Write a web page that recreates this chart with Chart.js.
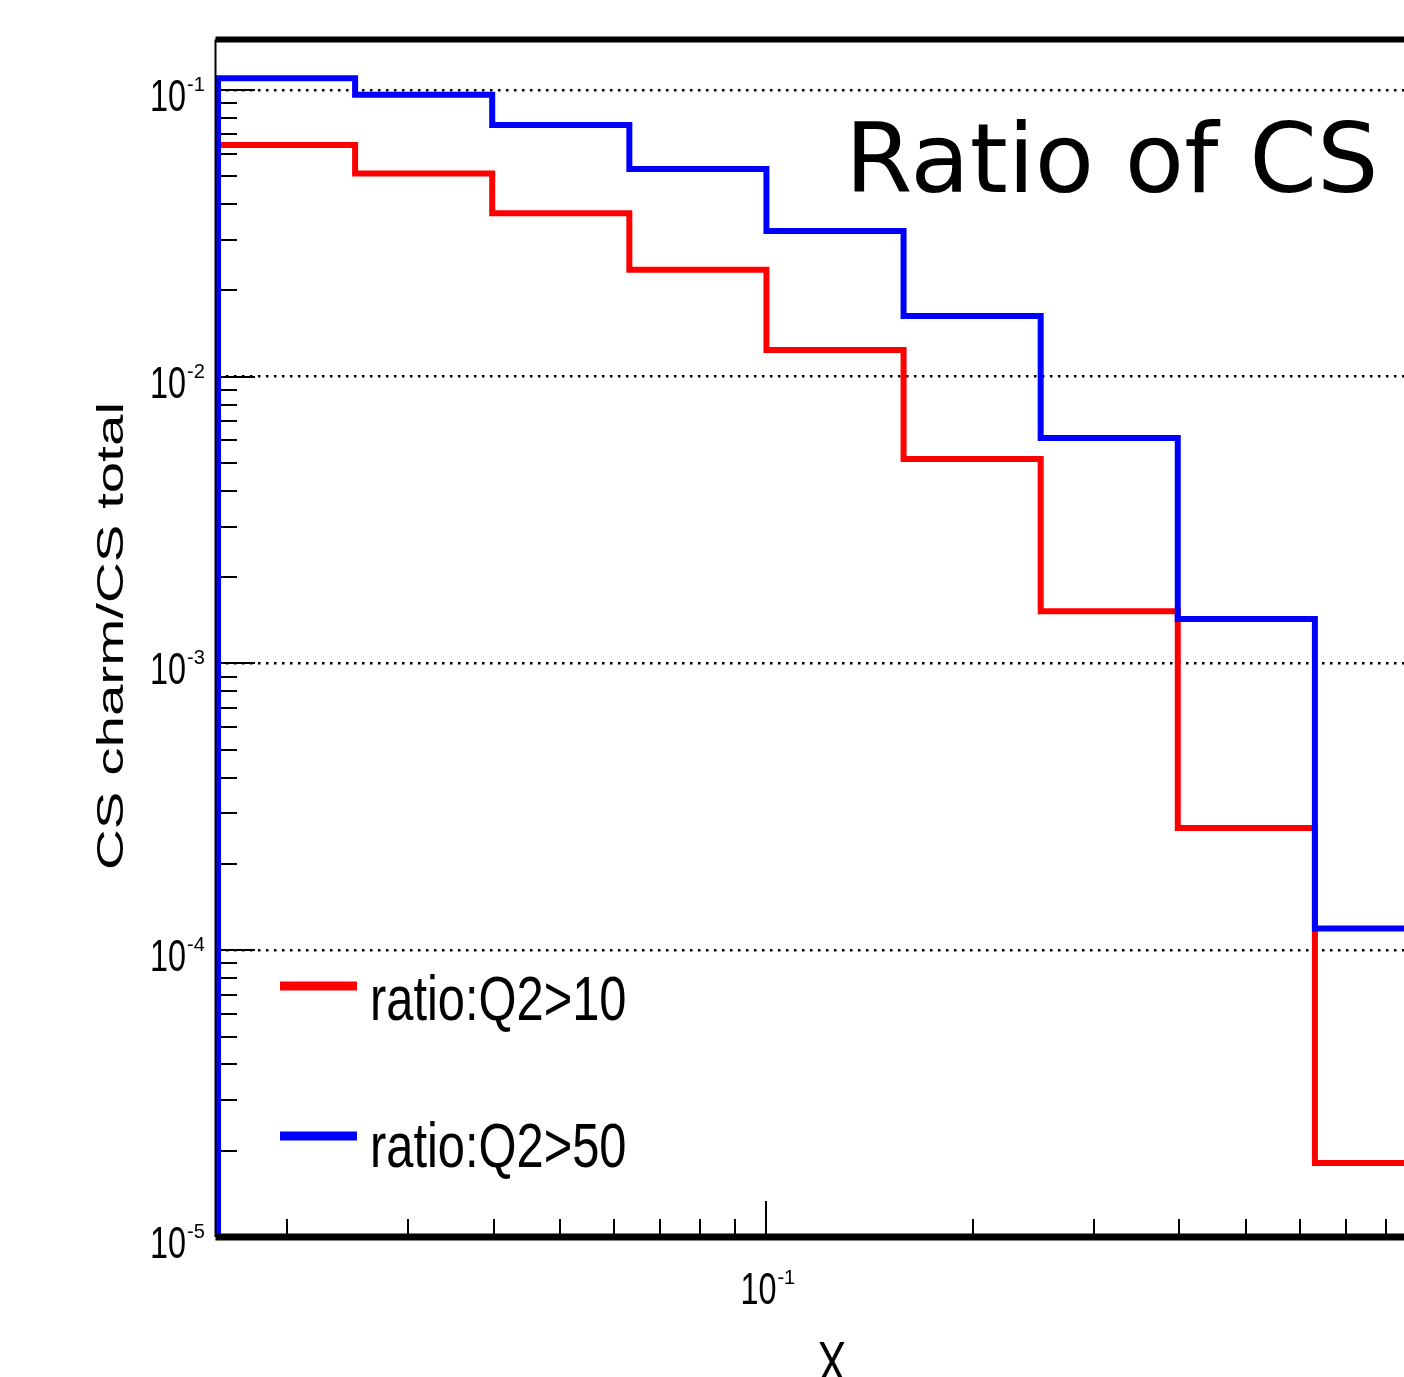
<!DOCTYPE html>
<html>
<head>
<meta charset="utf-8">
<script src="https://cdn.jsdelivr.net/npm/chart.js@4.4.1/dist/chart.umd.min.js"></script>
<style>
  html, body { margin: 0; padding: 0; background: #fff; overflow: hidden; }
  #wrap { width: 1500px; height: 1377px; }
</style>
</head>
<body>
<div id="wrap"><canvas id="chart" width="1500" height="1377"></canvas></div>
<script>
// histogram bin edges in x (log spaced, 0.2 decades per bin)
const binEdges = [0.01585, 0.02512, 0.03981, 0.06310, 0.1, 0.1585, 0.2512, 0.3981, 0.6310, 1.0];

// CS charm / CS total, one value per bin
const ratioQ2gt10 = [0.0643, 0.0511, 0.0372, 0.0236, 0.0124, 0.00517, 0.00152, 0.000267, 0.0000181];
const ratioQ2gt50 = [0.110, 0.0963, 0.0755, 0.0530, 0.0322, 0.0163, 0.00611, 0.00143, 0.000119];

const seriesLabels = ['ratio:Q2>10', 'ratio:Q2>50'];
const seriesColors = ['#ff0000', '#0000ff'];

// axis decades and their exponent labels
const yDecades = [1e-5, 1e-4, 1e-3, 1e-2, 1e-1];
const yExponents = ['-5', '-4', '-3', '-2', '-1'];
const xDecades = [0.1];
const xExponents = ['-1'];

const yMin = 1e-5, yMax = 0.15;

const titleText = 'Ratio of CS';
const xTitle = 'X';
const yTitle = 'CS charm/CS total';

const FONT = "'Liberation Sans', Arial, sans-serif";

// turn bin contents into the outline of a step histogram
function histPoints(edges, values) {
    const pts = [{ x: edges[0], y: yMin }];
    values.forEach((v, i) => {
        pts.push({ x: edges[i], y: v });
        pts.push({ x: edges[i + 1], y: v });
    });
    return pts;
}

// text squeezed / stretched horizontally
function squeezedText(ctx, text, x, y, sx, align) {
    ctx.save();
    ctx.translate(x, y);
    ctx.scale(sx, 1);
    ctx.textAlign = align;
    ctx.fillText(text, 0, 0);
    ctx.restore();
}

// "10" with a raised exponent, "10" ends at xRight
function drawPow(ctx, exp, xRight, baseline) {
    ctx.fillStyle = '#000';
    ctx.textBaseline = 'alphabetic';
    ctx.font = '45px ' + FONT;
    squeezedText(ctx, '10', xRight, baseline, 0.72, 'right');
    ctx.font = '20px ' + FONT;
    ctx.textAlign = 'left';
    ctx.fillText(exp, xRight + 1, baseline - 20);
}

const rootStyle = {
    id: 'rootStyle',
    beforeDatasetsDraw(chart) {
        const { ctx, chartArea: a, scales: { x, y } } = chart;
        ctx.save();
        ctx.strokeStyle = '#000';
        ctx.lineWidth = 2;
        // y ticks (inside the frame)
        for (let e = -5; e <= -1; e++) {
            for (let m = 1; m <= 9; m++) {
                const v = m * Math.pow(10, e);
                if (v < yMin || v > yMax) continue;
                const py = Math.round(y.getPixelForValue(v));
                const len = m === 1 ? 37 : 19;
                ctx.beginPath();
                ctx.moveTo(a.left, py);
                ctx.lineTo(a.left + len, py);
                ctx.stroke();
            }
        }
        // x ticks
        for (let e = -2; e <= -1; e++) {
            for (let m = 1; m <= 9; m++) {
                const v = m * Math.pow(10, e);
                if (v < x.min || v > x.max) continue;
                const px = Math.round(x.getPixelForValue(v));
                const len = m === 1 ? 36 : 18;
                ctx.beginPath();
                ctx.moveTo(px, a.bottom);
                ctx.lineTo(px, a.bottom - len);
                ctx.stroke();
            }
        }
        ctx.restore();
    },
    afterDraw(chart) {
        const { ctx, chartArea: a, scales: { x, y } } = chart;
        ctx.save();
        ctx.strokeStyle = '#000';
        // frame
        ctx.lineWidth = 6;
        ctx.beginPath();
        ctx.moveTo(a.left - 2.5, a.top);
        ctx.lineTo(a.right + 3, a.top);
        ctx.stroke();
        ctx.lineWidth = 7;
        ctx.beginPath();
        ctx.moveTo(a.left - 2.5, a.bottom);
        ctx.lineTo(a.right + 3, a.bottom);
        ctx.stroke();
        ctx.lineWidth = 2;
        ctx.beginPath();
        ctx.moveTo(a.left - 2.5, a.top);
        ctx.lineTo(a.left - 2.5, a.bottom);
        ctx.stroke();

        // tick labels
        yDecades.forEach((v, i) => {
            const py = y.getPixelForValue(v);
            drawPow(ctx, yExponents[i], a.left - 32, py + 21);
        });
        xDecades.forEach((v, i) => {
            const px = x.getPixelForValue(v);
            drawPow(ctx, xExponents[i], px + 10, a.bottom + 67);
        });

        // axis titles
        ctx.fillStyle = '#000';
        ctx.font = '60px ' + FONT;
        squeezedText(ctx, xTitle, 832, 1383, 0.72, 'center');

        ctx.save();
        ctx.translate(123, 636);
        ctx.rotate(-Math.PI / 2);
        ctx.font = '36px ' + FONT;
        const w = ctx.measureText(yTitle).width;
        squeezedText(ctx, yTitle, 0, 0, 468 / w, 'center');
        ctx.restore();

        // title
        ctx.font = "97px 'DejaVu Sans', sans-serif";
        ctx.textAlign = 'left';
        ctx.fillText(titleText, 845, 192);

        // legend
        const legendY = [986, 1136];
        const legendBase = [1020, 1167];
        chart.data.datasets.forEach((ds, i) => {
            ctx.strokeStyle = ds.borderColor;
            ctx.lineWidth = 9;
            ctx.beginPath();
            ctx.moveTo(280, legendY[i]);
            ctx.lineTo(357, legendY[i]);
            ctx.stroke();
            ctx.fillStyle = '#000';
            ctx.font = '63px ' + FONT;
            squeezedText(ctx, ds.label, 370, legendBase[i], 0.775, 'left');
        });
        ctx.restore();
    }
};

const ctx = document.getElementById('chart').getContext('2d');
const chart = new Chart(ctx, {
    type: 'line',
    data: {
        datasets: [
            {
                label: seriesLabels[0],
                data: histPoints(binEdges, ratioQ2gt10),
                borderColor: seriesColors[0],
                borderWidth: 6,
                pointRadius: 0,
                fill: false,
                tension: 0,
                borderJoinStyle: 'miter',
                borderCapStyle: 'butt',
                clip: false,
                order: 2
            },
            {
                label: seriesLabels[1],
                data: histPoints(binEdges, ratioQ2gt50),
                borderColor: seriesColors[1],
                borderWidth: 6,
                pointRadius: 0,
                fill: false,
                tension: 0,
                borderJoinStyle: 'miter',
                borderCapStyle: 'butt',
                clip: false,
                order: 1
            }
        ]
    },
    options: {
        responsive: false,
        animation: false,
        events: [],
        layout: { padding: { left: 218, top: 39.5, right: 1500 - 1452, bottom: 1377 - 1237 } },
        plugins: { legend: { display: false }, tooltip: { enabled: false } },
        scales: {
            x: {
                type: 'logarithmic',
                min: binEdges[0],
                max: binEdges[binEdges.length - 1],
                grid: { display: false },
                ticks: { display: false },
                border: { display: false },
                afterFit: (s) => { s.height = 0; }
            },
            y: {
                type: 'logarithmic',
                min: yMin,
                max: yMax,
                afterBuildTicks: (s) => {
                    s.ticks = yDecades.filter(v => v > yMin).map(v => ({ value: v }));
                },
                grid: { color: '#000', lineWidth: 2.5, drawTicks: false },
                border: { display: false, dash: [2.5, 5.5] },
                ticks: { display: false },
                afterFit: (s) => { s.width = 0; }
            }
        }
    },
    plugins: [rootStyle]
});
</script>
</body>
</html>
